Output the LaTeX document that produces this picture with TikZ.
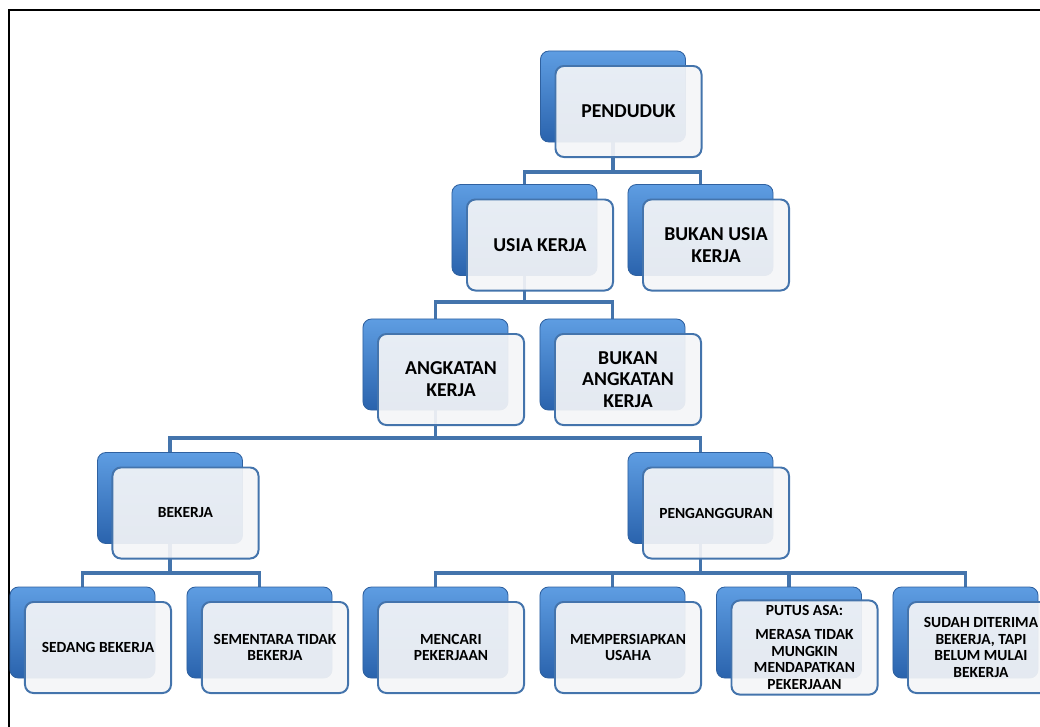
\documentclass[tikz,border=0pt]{standalone}
\usepackage{fontspec}
\setmainfont{Carlito}
\usetikzlibrary{calc}

\pgfdeclarelayer{bawah}
\pgfsetlayers{bawah,main}

\definecolor{biruatas}{HTML}{5E9DE2}
\definecolor{birubawah}{HTML}{2A63AD}
\definecolor{birutepi}{HTML}{2F61A0}
\definecolor{garisbiru}{HTML}{4474AC}
\definecolor{isidepan}{HTML}{F4F5F7}

% kotak: nama, x, y, teks (kotak biru di belakang, kotak terang di depan)
\newcommand{\kotak}[5][]{%
  \node[belakang] (#2-b) at (#3,#4) {};
  \node[depan,#1] (#2) at (#3+15.5,#4+15) {#5};
}

\begin{document}
\begin{tikzpicture}[x=0.025cm, y=-0.025cm,
    belakang/.style={rounded corners=6pt, minimum width=3.625cm, minimum height=2.275cm,
      top color=biruatas, bottom color=birubawah, draw=birutepi, line width=0.6pt},
    depan/.style={rounded corners=6pt, minimum width=3.65cm, minimum height=2.275cm,
      fill=isidepan, fill opacity=0.92, text opacity=1, draw=garisbiru, line width=1.4pt,
      align=center, font=\bfseries\fontsize{14}{15.5}\selectfont},
    kecil/.style={font=\bfseries\fontsize{11}{12}\selectfont},
    garis/.style={garisbiru, line width=2.2pt}]

    \useasboundingbox (0,0) rectangle (1040,726);

    % bingkai
    \draw[line width=2pt] (9,10) rectangle (1070,760);

    % tingkat 1 - 3
    \kotak{penduduk}{613}{96.5}{PENDUDUK}
    \kotak{usia}{524.5}{230}{USIA KERJA}
    \kotak{bukanusia}{700.5}{230}{BUKAN USIA\\KERJA}
    \kotak{angkatan}{435.5}{364.5}{ANGKATAN\\KERJA}
    \kotak{bukanangkatan}{612.5}{364.5}{BUKAN\\ANGKATAN\\KERJA}

    % tingkat 4
    \kotak[kecil]{bekerja}{170}{498}{BEKERJA}
    \kotak[kecil]{pengangguran}{700.5}{498}{PENGANGGURAN}

    % tingkat 5
    \kotak[kecil]{sedang}{82.5}{632.5}{SEDANG BEKERJA}
    \kotak[kecil]{sementara}{259.5}{632.5}{SEMENTARA TIDAK\\BEKERJA}
    \kotak[kecil]{mencari}{435.5}{632.5}{MENCARI\\PEKERJAAN}
    \kotak[kecil]{persiapan}{612.5}{632.5}{MEMPERSIAPKAN\\USAHA}
    \kotak[kecil]{putusasa}{789}{632.5}{PUTUS ASA:\\[5pt]MERASA TIDAK\\MUNGKIN\\MENDAPATKAN\\PEKERJAAN}
    \kotak[kecil]{sudah}{965.5}{632.5}{SUDAH DITERIMA\\BEKERJA, TAPI\\BELUM MULAI\\BEKERJA}

    % garis penghubung
    \begin{pgfonlayer}{bawah}
      \coordinate (jalur1) at (0,172);
      \coordinate (jalur2) at (0,302);
      \coordinate (jalur3) at (0,438);
      \coordinate (jalur4) at (0,573);
      \foreach \anak in {usia,bukanusia}
        \draw[garis] (penduduk-b.center) |- (jalur1 -| \anak-b) -- (\anak-b.center);
      \foreach \anak in {angkatan,bukanangkatan}
        \draw[garis] (usia-b.center) |- (jalur2 -| \anak-b) -- (\anak-b.center);
      \foreach \anak in {bekerja,pengangguran}
        \draw[garis] (angkatan-b.center) |- (jalur3 -| \anak-b) -- (\anak-b.center);
      \foreach \anak in {sedang,sementara}
        \draw[garis] (bekerja-b.center) |- (jalur4 -| \anak-b) -- (\anak-b.center);
      \foreach \anak in {mencari,persiapan,putusasa,sudah}
        \draw[garis] (pengangguran-b.center) |- (jalur4 -| \anak-b) -- (\anak-b.center);
    \end{pgfonlayer}
\end{tikzpicture}
\end{document}
